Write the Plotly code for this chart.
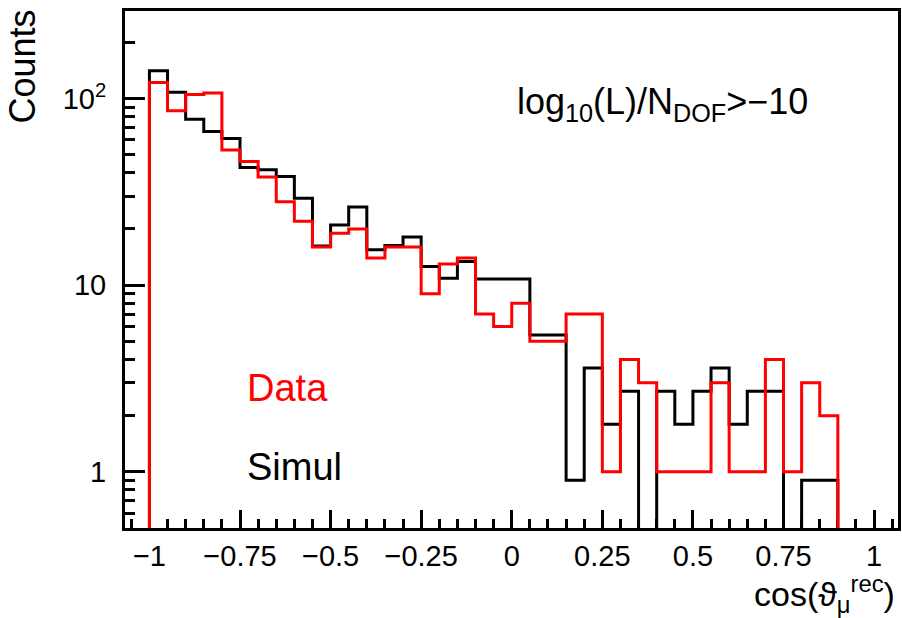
import plotly.graph_objects as go

# ---- data ----
bin_low = -1.0
bin_width = 0.05
n_bins = 40
data_counts = [122, 86, 105, 107, 53, 46, 38, 28, 22, 16,
               19, 20, 14, 16, 16, 9, 13, 14, 7, 6,
               8, 5, 5, 7, 7, 1, 4, 3, 1, 1,
               1, 3, 1, 1, 4, 1, 3, 2, 0, 0]
simul_counts = [141, 108, 77.5, 66.5, 61, 42.7, 41.5, 38.2, 29.2, 16.2,
                21, 26.2, 15.5, 16.3, 18.1, 12.6, 10.9, 13.4, 10.8, 10.8,
                10.8, 5.4, 5.4, 0.9, 3.6, 1.8, 2.7, 0, 2.7, 1.8,
                2.7, 3.6, 1.8, 2.7, 2.7, 0, 0.9, 0.9, 0, 0]
x_tick_vals = [-1, -0.75, -0.5, -0.25, 0, 0.25, 0.5, 0.75, 1]
x_tick_text = ["\u22121", "\u22120.75", "\u22120.5", "\u22120.25", "0", "0.25", "0.5", "0.75", "1"]
y_tick_vals = [1, 10, 100]
y_tick_text = ["1", "10", "10<sup>2</sup>"]

FLOOR = 0.05  # below the visible range: empty bins drop to the axis


def step_xy(counts):
    edges = [bin_low + bin_width * i for i in range(n_bins + 1)]
    last = max(i for i, c in enumerate(counts) if c > 0)
    xs = [edges[0]]
    ys = [FLOOR]
    for i in range(last + 1):
        xs.append(edges[i])
        ys.append(counts[i] if counts[i] > 0 else FLOOR)
    xs.append(edges[last + 1])
    ys.append(FLOOR)
    return xs, ys


FONT = "Liberation Sans, Arial, sans-serif"

fig = go.Figure()
sx, sy = step_xy(simul_counts)
fig.add_trace(go.Scatter(x=sx, y=sy, mode="lines", line=dict(color="black", width=3, shape="hv"),
                         name="Simul", showlegend=False))
dx, dy = step_xy(data_counts)
fig.add_trace(go.Scatter(x=dx, y=dy, mode="lines", line=dict(color="#ff0000", width=3, shape="hv"),
                         name="Data", showlegend=False))

minor_y = [m * 10 ** e for e in (-1, 0, 1, 2) for m in range(2, 10)]
minor_x = [round(-1.05 + 0.05 * i, 2) for i in range(43)]

fig.update_layout(
    width=902, height=618,
    margin=dict(l=125, r=1, t=11, b=90),
    paper_bgcolor="white", plot_bgcolor="white",
    font=dict(family=FONT, color="black", size=30),
    xaxis=dict(range=[-1.0674, 1.066], showgrid=False, zeroline=False, layer="below traces",
               showline=True, linecolor="black", linewidth=3, mirror=True,
               ticks="inside", ticklen=18, tickwidth=3, tickcolor="black",
               tickvals=x_tick_vals, ticktext=x_tick_text,
               tickfont=dict(size=29, family=FONT),
               minor=dict(tickvals=minor_x, ticks="inside", ticklen=9, tickwidth=3, tickcolor="black")),
    yaxis=dict(type="log", range=[-0.30103, 2.469], showgrid=False, zeroline=False, layer="below traces",
               showline=True, linecolor="black", linewidth=3, mirror=True,
               ticks="inside", ticklen=20, tickwidth=3, tickcolor="black",
               tickvals=y_tick_vals, ticktext=y_tick_text, ticklabelstandoff=10,
               tickfont=dict(size=29, family=FONT),
               minor=dict(tickvals=minor_y, ticks="inside", ticklen=10, tickwidth=3, tickcolor="black")),
)

ann = [
    dict(text="log<sub>10</sub>(L)/N<sub>DOF</sub>>\u221210", x=0.01, y=1.971, xref="x", yref="y",
         xanchor="left", yanchor="middle", showarrow=False, font=dict(size=36, family=FONT, color="black")),
    dict(text="Data", x=-0.737, y=0.45, xref="x", yref="y", xanchor="left", yanchor="middle",
         showarrow=False, font=dict(size=38, family=FONT, color="#ff0000")),
    dict(text="Simul", x=-0.737, y=0.027, xref="x", yref="y", xanchor="left", yanchor="middle",
         showarrow=False, font=dict(size=38, family=FONT, color="black")),
    dict(text="Counts", x=-0.133, y=0.893, xref="paper", yref="paper", xanchor="center", yanchor="middle",
         textangle=-90, showarrow=False, font=dict(size=36, family=FONT, color="black")),
    dict(text="cos(\u03d1<sub>\u03bc</sub><sup>rec</sup>)", x=0.999, y=-0.127, xref="paper", yref="paper",
         xanchor="right", yanchor="middle", showarrow=False, font=dict(size=34, family=FONT, color="black")),
]
fig.update_layout(annotations=ann)

fig.write_html("out.html")
